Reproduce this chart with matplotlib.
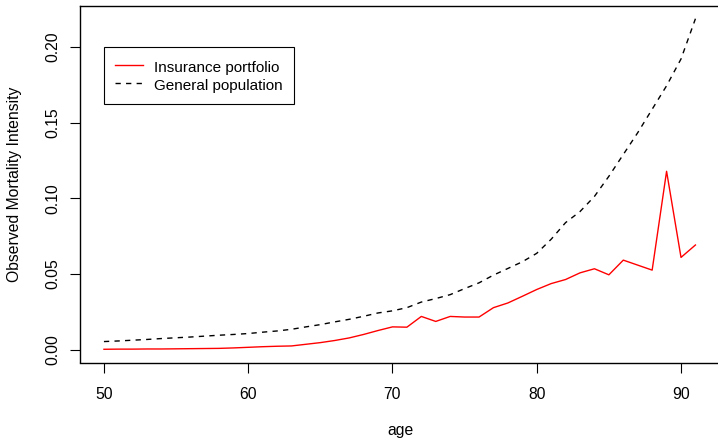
import numpy as np
import matplotlib
matplotlib.use("Agg")
import matplotlib.pyplot as plt
from matplotlib.ticker import FormatStrFormatter

# ages 50..91
ages = list(range(50, 92))

# observed mortality intensity, insurance portfolio
portfolio = [0.0002, 0.0003, 0.0003, 0.0004, 0.0004, 0.0005, 0.0006, 0.0007, 0.0008, 0.0011,
             0.0015, 0.0019, 0.0022, 0.0024, 0.0035, 0.0046, 0.0060, 0.0077, 0.0100, 0.0126,
             0.0150, 0.0148, 0.0219, 0.0186, 0.0219, 0.0215, 0.0215, 0.0277, 0.0308, 0.0352,
             0.0397, 0.0436, 0.0463, 0.0507, 0.0534, 0.0494, 0.0591, 0.0558, 0.0525, 0.1178,
             0.0609, 0.0691]

# general population
population = [0.0053, 0.0057, 0.0062, 0.0067, 0.0073, 0.0078, 0.0083, 0.0089, 0.0095, 0.0100,
              0.0106, 0.0115, 0.0123, 0.0134, 0.0150, 0.0165, 0.0183, 0.0200, 0.0220, 0.0242,
              0.0256, 0.0277, 0.0314, 0.0337, 0.0363, 0.0403, 0.0441, 0.0492, 0.0536, 0.0580,
              0.0636, 0.0729, 0.0839, 0.0912, 0.1012, 0.1145, 0.1289, 0.1433, 0.1588, 0.1743,
              0.1920, 0.2186]

x_ticks = [50, 60, 70, 80, 90]
y_ticks = [0.00, 0.05, 0.10, 0.15, 0.20]

plt.rcParams['font.family'] = ['Liberation Sans', 'DejaVu Sans']
plt.rcParams['font.size'] = 11.3
plt.rcParams['lines.scale_dashes'] = False

fig = plt.figure(figsize=(7.18, 4.38), dpi=100)
# right edge of the box runs just past the image, like the reference
ax = fig.add_axes([80 / 718, (438 - 362.5) / 438, 644 / 718, 357 / 438])

ax.plot(ages, portfolio, color='red', lw=1.0, label='Insurance portfolio')
ax.plot(ages, population, color='black', lw=1.0, dashes=(3.8, 3.8), label='General population')

ax.set_xlim(48.34, 92.98)
ax.margins(y=0.04)
ax.set_xticks(x_ticks)
ax.set_yticks(y_ticks)
ax.yaxis.set_major_formatter(FormatStrFormatter('%.2f'))
ax.tick_params(direction='out', length=6.9, width=0.8, colors='black')
ax.tick_params(axis='x', pad=11)
ax.tick_params(axis='y', pad=7)
for lab in ax.get_yticklabels():
    lab.set_rotation(90)
    lab.set_va('center')

for s in ax.spines.values():
    s.set_linewidth(1.0)

ax.set_xlabel('age', va='center')
ax.xaxis.set_label_coords(0.5 - 2 / 644, (362.5 - 430) / 357)
ax.set_ylabel('Observed Mortality Intensity', va='center')
ax.yaxis.set_label_coords((15 - 80) / 644, 0.5)

leg = ax.legend(loc='upper left', bbox_to_anchor=(50, 0.20), bbox_transform=ax.transData,
                borderaxespad=0, frameon=True, fancybox=False, framealpha=1,
                edgecolor='black', handlelength=1.8, handletextpad=0.75,
                handleheight=1.24, borderpad=0.75, labelspacing=0.15,
                prop={'size': 11})
leg.get_frame().set_linewidth(0.8)

fig.savefig('out.png', dpi=100)
